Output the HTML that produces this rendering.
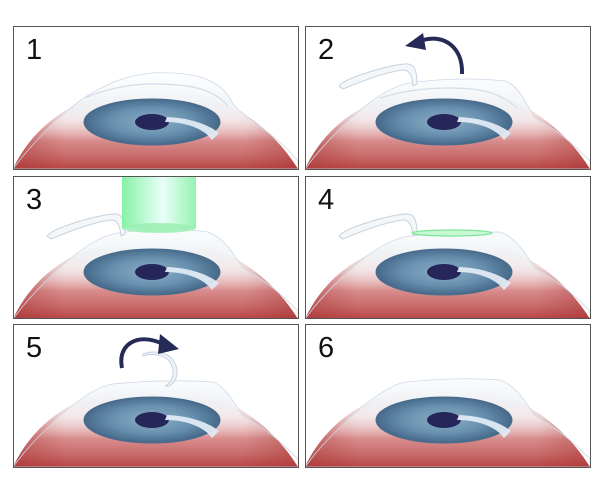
<!DOCTYPE html>
<html><head><meta charset="utf-8"><style>
html,body{margin:0;padding:0;background:#fff;width:600px;height:500px;overflow:hidden}
svg{display:block}
text{font-family:"Liberation Sans",sans-serif;font-size:29px;fill:#111}
</style></head><body>
<svg width="600" height="500" viewBox="0 0 600 500" xmlns="http://www.w3.org/2000/svg">
<defs>
  <linearGradient id="red" x1="0" x2="0" y1="60" y2="143" gradientUnits="userSpaceOnUse">
    <stop offset="0" stop-color="#ffffff"/>
    <stop offset="0.4" stop-color="#f0d6d6"/>
    <stop offset="0.65" stop-color="#d98e8e"/>
    <stop offset="0.85" stop-color="#c86a6a"/>
    <stop offset="1" stop-color="#b84646"/>
  </linearGradient>
  <radialGradient id="side" cx="142" cy="110" r="150" gradientUnits="userSpaceOnUse">
    <stop offset="0.6" stop-color="#a83030" stop-opacity="0"/>
    <stop offset="1" stop-color="#a83030" stop-opacity="0.5"/>
  </radialGradient>
  <radialGradient id="iris" cx="139" cy="96" r="68" gradientUnits="userSpaceOnUse" gradientTransform="translate(0 63) scale(1 0.34)">
    <stop offset="0" stop-color="#8aaec6"/>
    <stop offset="0.6" stop-color="#6890ae"/>
    <stop offset="1" stop-color="#46698a"/>
  </radialGradient>
  <linearGradient id="beam" x1="0" x2="1" y1="0" y2="0">
    <stop offset="0" stop-color="#7af09a"/>
    <stop offset="0.55" stop-color="#e6fff8"/>
    <stop offset="1" stop-color="#8af0a8"/>
  </linearGradient>
  <linearGradient id="corn" x1="0" x2="0" y1="45" y2="115" gradientUnits="userSpaceOnUse">
    <stop offset="0" stop-color="#ffffff" stop-opacity="0.97"/>
    <stop offset="0.5" stop-color="#eef2f6" stop-opacity="0.8"/>
    <stop offset="1" stop-color="#ffffff" stop-opacity="0"/>
  </linearGradient>
  <clipPath id="cp"><rect x="0" y="0" width="285" height="143"/></clipPath>
  <g id="dome">
    <path d="M0,143 C20,100 60,70 120,62 C200,55 255,95 285,143 Z" fill="url(#red)"/>
    <path d="M0,143 C20,100 60,70 120,62 C200,55 255,95 285,143 Z" fill="url(#side)"/>
  </g>
  <g id="eyeparts">
    <ellipse cx="139" cy="96" rx="68" ry="23" fill="url(#iris)" stroke="#4a6c8c" stroke-width="1"/>
    <ellipse cx="139" cy="96" rx="17" ry="8" fill="#26265a"/>
    <path d="M154,91 C178,92 196,99 206,107 L199,114 C192,104 175,96 152,96 Z" fill="#dfeaf4" opacity="0.95"/>
  </g>
  <g id="flap">
    <path d="M34,60 C40,52 80,40 100,38 C110,37 112,45 112,58 L108,60 C107,50 105,44 98,44 C80,46 50,58 38,63 Z" fill="#f4f7fa" stroke="#c6d2de" stroke-width="1"/>
  </g>
</defs>

<!-- Panel 1 -->
<g transform="translate(13,26)" clip-path="url(#cp)">
  <use href="#dome"/>
  <path d="M10,130 C40,95 80,52 139,47 C185,45 210,55 220,78 C235,95 260,105 285,135 L285,143 L0,143 Z" fill="url(#corn)" stroke="#cdd9e6" stroke-width="0.8"/>
  <use href="#eyeparts"/>
  <path d="M72,72 C95,62 120,58 140,58 C175,58 200,62 215,80" fill="none" stroke="#d2dde8" stroke-width="1.2"/>
</g>
<rect x="13.5" y="26.5" width="285" height="143" fill="none" stroke="#555" stroke-width="1"/>
<text x="26" y="59">1</text>

<!-- Panel 2 -->
<g transform="translate(305,26)" clip-path="url(#cp)">
  <use href="#dome"/>
  <path d="M10,130 C40,95 75,62 105,57 C140,52 170,52 200,55 C215,60 222,80 230,92 C248,102 260,110 285,135 L285,143 L0,143 Z" fill="url(#corn)" stroke="#cdd9e6" stroke-width="0.8"/>
  <use href="#eyeparts"/>
  <path d="M75,72 C100,64 125,62 145,62 C175,62 195,66 212,82" fill="none" stroke="#d2dde8" stroke-width="1.2"/>
  <use href="#flap"/>
  <path d="M157,48 C158,22 140,8 118,14" fill="none" stroke="#262a56" stroke-width="4"/>
  <path d="M100,20 L118,7 L121,24 Z" fill="#262a56"/>
</g>
<rect x="305.5" y="26.5" width="285" height="143" fill="none" stroke="#555" stroke-width="1"/>
<text x="318" y="59">2</text>

<!-- Panel 3 -->
<g transform="translate(13,176)" clip-path="url(#cp)">
  <use href="#dome"/>
  <path d="M10,130 C40,95 75,62 105,57 C140,52 170,52 195,56 C212,62 222,80 230,92 C248,102 260,110 285,135 L285,143 L0,143 Z" fill="url(#corn)" stroke="#cdd9e6" stroke-width="0.8"/>
  <use href="#eyeparts"/>
  <use href="#flap"/>
  <rect x="109" y="0" width="74" height="52" fill="url(#beam)" opacity="0.9"/>
  <ellipse cx="146" cy="52" rx="37" ry="5" fill="#9cf0b4" opacity="0.9"/>
</g>
<rect x="13.5" y="176.5" width="285" height="142" fill="none" stroke="#555" stroke-width="1"/>
<text x="26" y="209">3</text>

<!-- Panel 4 -->
<g transform="translate(305,176)" clip-path="url(#cp)">
  <use href="#dome"/>
  <path d="M10,130 C40,95 75,64 105,60 C140,56 170,56 195,56 C212,62 222,80 230,92 C248,102 260,110 285,135 L285,143 L0,143 Z" fill="url(#corn)" stroke="#cdd9e6" stroke-width="0.8"/>
  <use href="#eyeparts"/>
  <use href="#flap"/>
  <ellipse cx="147" cy="57" rx="40" ry="3" fill="#c8f8d4" stroke="#7ee69a" stroke-width="1.2"/>
</g>
<rect x="305.5" y="176.5" width="285" height="142" fill="none" stroke="#555" stroke-width="1"/>
<text x="318" y="209">4</text>

<!-- Panel 5 -->
<g transform="translate(13,324)" clip-path="url(#cp)">
  <use href="#dome"/>
  <path d="M10,130 C40,95 75,64 100,60 C140,56 170,56 200,58 C212,62 222,80 230,92 C248,102 260,110 285,135 L285,143 L0,143 Z" fill="url(#corn)" stroke="#cdd9e6" stroke-width="0.8"/>
  <use href="#eyeparts"/>
  <path d="M130,32 C140,28 155,32 158,40 C162,48 160,58 152,62 L156,62 C166,56 166,44 160,36 C154,28 140,26 130,30 Z" fill="#eef3f8" stroke="#c6d2de" stroke-width="1"/>
  <path d="M109,44 C104,20 125,8 150,20" fill="none" stroke="#262a56" stroke-width="4"/>
  <path d="M147,10 L166,25 L145,30 Z" fill="#262a56"/>
</g>
<rect x="13.5" y="324.5" width="285" height="143" fill="none" stroke="#555" stroke-width="1"/>
<text x="26" y="357">5</text>

<!-- Panel 6 -->
<g transform="translate(305,324)" clip-path="url(#cp)">
  <use href="#dome"/>
  <path d="M10,130 C40,95 75,64 100,58 C140,54 170,54 195,56 C212,62 222,80 230,92 C248,102 260,110 285,135 L285,143 L0,143 Z" fill="url(#corn)" stroke="#cdd9e6" stroke-width="0.8"/>
  <use href="#eyeparts"/>
</g>
<rect x="305.5" y="324.5" width="285" height="143" fill="none" stroke="#555" stroke-width="1"/>
<text x="318" y="357">6</text>
</svg>
</body></html>
